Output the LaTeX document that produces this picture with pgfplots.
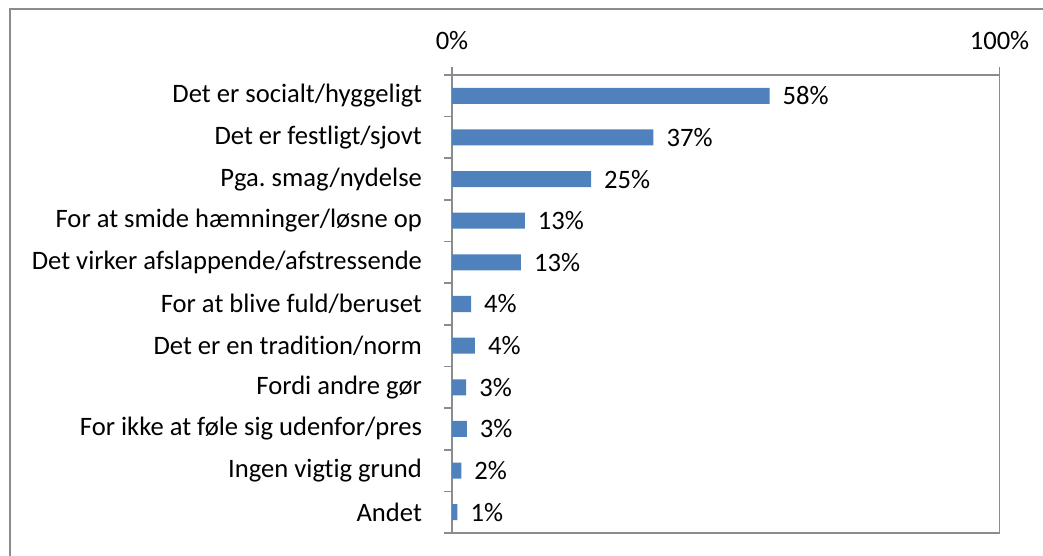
\documentclass[border=0pt]{standalone}
\usepackage{pgfplots}
\pgfplotsset{compat=1.18}
\usepackage{fontspec}
\setmainfont{Carlito}[Ligatures=NoCommon]
\frenchspacing
\definecolor{barblue}{HTML}{4F81BD}
\definecolor{axgray}{HTML}{8C8C8C}

\begin{document}
\begin{tikzpicture}[x=1pt,y=1pt]
\clip (0,0) rectangle (521.5,278);
% outer chart frame (cut off on the right and at the bottom)
\draw[axgray, line width=0.9pt] (5,-20) -- (5,273.5) -- (540,273.5);
\begin{axis}[
  at={(226pt,11.5pt)}, anchor=south west,
  scale only axis, width=273.75pt, height=229pt,
  xbar, bar width=8pt,
  xmin=0, xmax=100, ymin=-0.5, ymax=10.5, y dir=reverse,
  axis line style={axgray, line width=0.8pt},
  tick style={axgray, line width=0.8pt},
  tick align=outside, major tick length=4pt, minor tick length=4pt,
  xtick={0,100}, xticklabel pos=upper, xtick pos=upper,
  xticklabel={\pgfmathprintnumber{\tick}\%},
  /pgf/number format/assume math mode=true,
  ytick={0,...,10}, ytick pos=left,
  major y tick style={draw=none},
  minor ytick={-0.5,0.5,...,10.5},
  yticklabels={Det er socialt/hyggeligt, Det er festligt/sjovt, Pga. smag/nydelse,
    For at smide hæmninger/løsne op, Det virker afslappende/afstressende,
    For at blive fuld/beruset, Det er en tradition/norm, Fordi andre gør,
    For ikke at føle sig udenfor/pres, Ingen vigtig grund, Andet},
  ticklabel style={font=\fontsize{13.3}{16}\selectfont},
  yticklabel style={xshift=-7.5pt},
  xticklabel style={yshift=5pt},
  nodes near coords={\pgfplotspointmeta\%},
  point meta=explicit symbolic,
  every node near coord/.append style={font=\fontsize{13.3}{16}\selectfont, black, anchor=west, xshift=3pt},
]
\addplot[fill=barblue, draw=none] coordinates {
  (58.0,0) [58]
  (36.8,1) [37]
  (25.4,2) [25]
  (13.3,3) [13]
  (12.6,4) [13]
  (3.5,5) [4]
  (4.2,6) [4]
  (2.6,7) [3]
  (2.7,8) [3]
  (1.7,9) [2]
  (1.0,10) [1]
};
\end{axis}
\end{tikzpicture}
\end{document}
